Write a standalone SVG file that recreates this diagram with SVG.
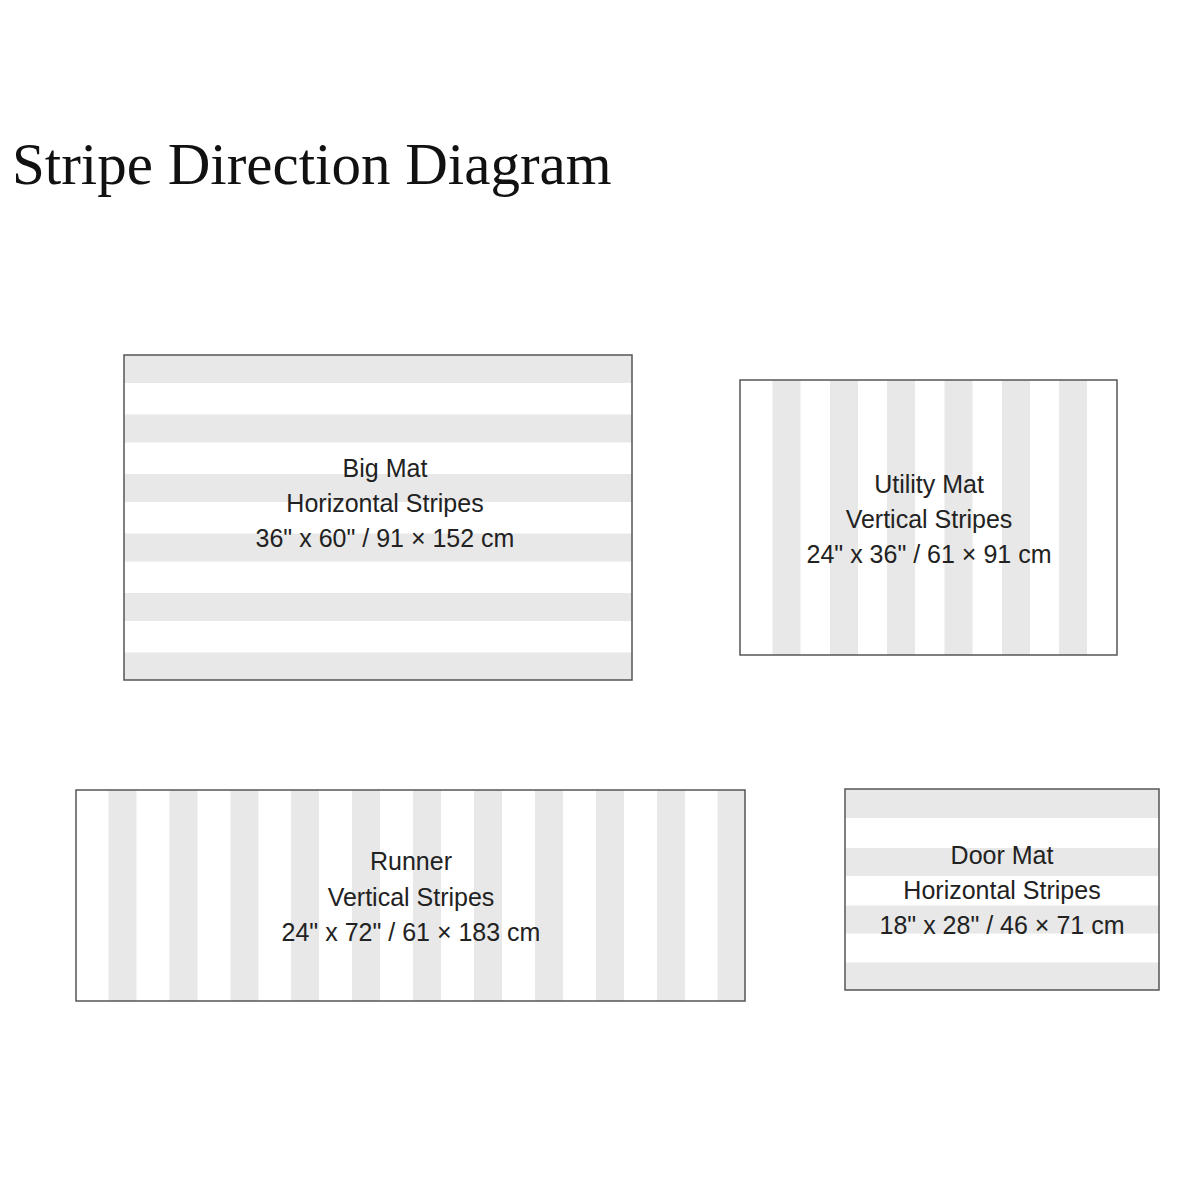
<svg xmlns="http://www.w3.org/2000/svg" width="1200" height="1200" viewBox="0 0 1200 1200">
<style>
.bg{fill:#ffffff}
.st{fill:#e8e8e8}
.frame{fill:none;stroke:#555555;stroke-width:1.5}
.lbl{font-family:"Liberation Sans","Noto Sans",sans-serif;font-size:25px;fill:#222222;text-anchor:middle}
.title{font-family:"Liberation Serif","Times New Roman",serif;font-size:59px;fill:#111111}
</style>
<rect x="0" y="0" width="1200" height="1200" fill="#ffffff"/>
<text class="title" x="12" y="184">Stripe Direction Diagram</text>

<g id="big-mat">
<rect class="bg" x="124" y="355" width="508" height="325"/>
<rect class="st" x="124" y="355" width="508" height="28"/>
<rect class="st" x="124" y="414.5" width="508" height="28"/>
<rect class="st" x="124" y="474" width="508" height="28"/>
<rect class="st" x="124" y="533.5" width="508" height="28"/>
<rect class="st" x="124" y="593" width="508" height="28"/>
<rect class="st" x="124" y="652.5" width="508" height="27.5"/>
<rect class="frame" x="124" y="355" width="508" height="325"/>
<text class="lbl" x="385" y="477">Big Mat</text>
<text class="lbl" x="385" y="512">Horizontal Stripes</text>
<text class="lbl" x="385" y="547">36" x 60" / 91 × 152 cm</text>
</g>

<g id="utility-mat">
<rect class="bg" x="740" y="380" width="377" height="275"/>
<rect class="st" x="772.5" y="380" width="28" height="275"/>
<rect class="st" x="830" y="380" width="28" height="275"/>
<rect class="st" x="887" y="380" width="28" height="275"/>
<rect class="st" x="944.5" y="380" width="28" height="275"/>
<rect class="st" x="1002" y="380" width="28" height="275"/>
<rect class="st" x="1059" y="380" width="28" height="275"/>
<rect class="frame" x="740" y="380" width="377" height="275"/>
<text class="lbl" x="929" y="493">Utility Mat</text>
<text class="lbl" x="929" y="528">Vertical Stripes</text>
<text class="lbl" x="929" y="563">24" x 36" / 61 × 91 cm</text>
</g>

<g id="runner">
<rect class="bg" x="76" y="790" width="669" height="211"/>
<rect class="st" x="108.5" y="790" width="28" height="211"/>
<rect class="st" x="169.5" y="790" width="28" height="211"/>
<rect class="st" x="230.5" y="790" width="28" height="211"/>
<rect class="st" x="291" y="790" width="28" height="211"/>
<rect class="st" x="352" y="790" width="28" height="211"/>
<rect class="st" x="413" y="790" width="28" height="211"/>
<rect class="st" x="474" y="790" width="28" height="211"/>
<rect class="st" x="535" y="790" width="28" height="211"/>
<rect class="st" x="596" y="790" width="28" height="211"/>
<rect class="st" x="657" y="790" width="28" height="211"/>
<rect class="st" x="717.5" y="790" width="27.5" height="211"/>
<rect class="frame" x="76" y="790" width="669" height="211"/>
<text class="lbl" x="411" y="870">Runner</text>
<text class="lbl" x="411" y="906">Vertical Stripes</text>
<text class="lbl" x="411" y="941">24" x 72" / 61 × 183 cm</text>
</g>

<g id="door-mat">
<rect class="bg" x="845" y="789" width="314" height="201"/>
<rect class="st" x="845" y="789" width="314" height="29"/>
<rect class="st" x="845" y="848" width="314" height="28"/>
<rect class="st" x="845" y="905.5" width="314" height="28"/>
<rect class="st" x="845" y="962.5" width="314" height="27.5"/>
<rect class="frame" x="845" y="789" width="314" height="201"/>
<text class="lbl" x="1002" y="864">Door Mat</text>
<text class="lbl" x="1002" y="899">Horizontal Stripes</text>
<text class="lbl" x="1002" y="934">18" x 28" / 46 × 71 cm</text>
</g>

<g id="connectors"></g>
</svg>
